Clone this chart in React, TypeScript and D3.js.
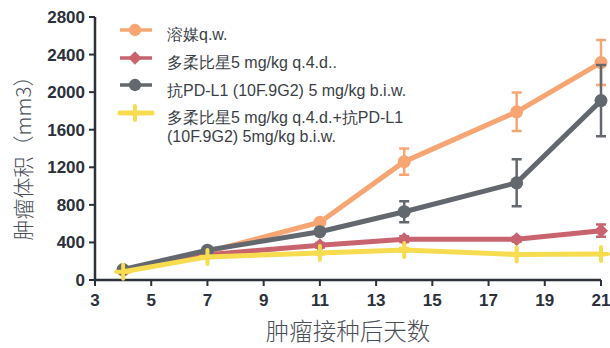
import React from "react";
import * as d3 from "d3";

// Days after tumour inoculation
const days = [4, 7, 11, 14, 18, 21];

// Mean tumour volume (mm3) per group
const vehicleMean = [105, 300, 615, 1260, 1790, 2315];
const doxMean = [100, 270, 370, 435, 433, 525];
const pdl1Mean = [112, 318, 514, 727, 1035, 1910];
const comboMean = [88, 246, 287, 320, 272, 276];

// Error bar half-widths (mm3)
const vehicleErr = [10, 20, 30, 140, 205, 240];
const doxErr = [8, 15, 25, 30, 25, 65];
const pdl1Err = [10, 20, 25, 112, 250, 380];
const comboErr = [6, 10, 15, 20, 12, 10];

const xTicks = [3, 5, 7, 9, 11, 13, 15, 17, 19, 21];
const yTicks = [0, 400, 800, 1200, 1600, 2000, 2400, 2800];

const legendLabels = [
  ["溶媒q.w."],
  ["多柔比星5 mg/kg q.4.d.."],
  ["抗PD-L1 (10F.9G2) 5 mg/kg b.i.w."],
  ["多柔比星5 mg/kg q.4.d.+抗PD-L1", "(10F.9G2) 5mg/kg b.i.w."],
];

type Shape = "circle" | "diamond" | "plus";
const series: { mean: number[]; err: number[]; color: string; shape: Shape }[] = [
  { mean: vehicleMean, err: vehicleErr, color: "#F7A673", shape: "circle" },
  { mean: doxMean, err: doxErr, color: "#C9646F", shape: "diamond" },
  { mean: pdl1Mean, err: pdl1Err, color: "#63676E", shape: "circle" },
  { mean: comboMean, err: comboErr, color: "#F8DC50", shape: "plus" },
];

const W = 610;
const H = 348;
const x = d3.scaleLinear().domain([3, 21]).range([95, 601]);
const y = d3.scaleLinear().domain([0, 2800]).range([280, 17]);
const axisColor = "#2B303A";
const font = "'Liberation Sans', Arial, sans-serif";
const cjk = "'Noto Sans CJK SC', sans-serif";

function Marker({ shape, cx, cy, color, size = 1 }: { shape: Shape; cx: number; cy: number; color: string; size?: number }) {
  if (shape === "circle") return <circle cx={cx} cy={cy} r={6.5 * size} fill={color} />;
  if (shape === "diamond") {
    const r = 7 * size;
    return <path d={`M${cx},${cy - r}L${cx + r},${cy}L${cx},${cy + r}L${cx - r},${cy}Z`} fill={color} />;
  }
  const r = 7 * size;
  return (
    <path
      d={`M${cx - r},${cy}L${cx + r},${cy}M${cx},${cy - r}L${cx},${cy + r}`}
      stroke={color}
      strokeWidth={4}
      strokeLinecap="round"
    />
  );
}

export default function App() {
  const line = d3
    .line<number>()
    .x((_, i) => x(days[i]))
    .y((v) => y(v));

  return (
    <svg width={W} height={H} style={{ position: "absolute", left: 0, top: 0, background: "#fff" }}>
      {/* axes */}
      <line x1={x(3)} x2={x(3)} y1={y(2800)} y2={y(0) + 1} stroke={axisColor} strokeWidth={2.5} />
      <line x1={x(3) - 1} x2={x(21)} y1={y(0)} y2={y(0)} stroke={axisColor} strokeWidth={2.5} />
      {yTicks.map((t) => (
        <g key={"y" + t}>
          <line x1={x(3) - 6} x2={x(3)} y1={y(t)} y2={y(t)} stroke={axisColor} strokeWidth={2} />
          <text
            x={x(3) - 10}
            y={y(t)}
            dy="0.35em"
            textAnchor="end"
            fontFamily={font}
            fontWeight="bold"
            fontSize={17}
            fill={axisColor}
          >
            {t}
          </text>
        </g>
      ))}
      {xTicks.map((t) => (
        <g key={"x" + t}>
          <line x1={x(t)} x2={x(t)} y1={y(0)} y2={y(0) + 6} stroke={axisColor} strokeWidth={2} />
          <text
            x={x(t)}
            y={y(0) + 20}
            dy="0.35em"
            textAnchor="middle"
            fontFamily={font}
            fontWeight="bold"
            fontSize={17}
            fill={axisColor}
          >
            {t}
          </text>
        </g>
      ))}

      {/* axis titles */}
      <text
        x={348}
        y={332}
        dy="0.35em"
        textAnchor="middle"
        fontFamily={cjk}
        fontWeight={300}
        fontSize={23.5}
        fill="#4A4F57"
      >
        肿瘤接种后天数
      </text>
      <text
        transform="translate(24,153) rotate(-90)"
        dy="0.35em"
        textAnchor="middle"
        fontFamily={cjk}
        fontWeight={300}
        fontSize={21}
        fill="#4A4F57"
      >
        肿瘤体积（mm3）
      </text>

      {/* series */}
      {series.map((s, si) => (
        <g key={"s" + si}>
          <path d={line(s.mean) || ""} fill="none" stroke={s.color} strokeWidth={5} strokeLinejoin="round" />
          {s.mean.map((v, i) => {
            const cx = x(days[i]);
            const top = y(v + s.err[i]);
            const bot = y(v - s.err[i]);
            return (
              <g key={i}>
                <path
                  d={`M${cx},${top}L${cx},${bot}M${cx - 5},${top}L${cx + 5},${top}M${cx - 5},${bot}L${cx + 5},${bot}`}
                  stroke={s.color}
                  strokeWidth={2.5}
                  fill="none"
                />
                <Marker shape={s.shape} cx={cx} cy={y(v)} color={s.color} />
              </g>
            );
          })}
        </g>
      ))}

      {/* legend */}
      {series.map((s, i) => {
        const my = [30, 58, 85, 113][i];
        const ty = [34, 62, 90, 117][i];
        return (
          <g key={"l" + i}>
            <line x1={120} x2={152} y1={my} y2={my} stroke={s.color} strokeWidth={s.shape === "plus" ? 5 : 3.5} strokeLinecap={s.shape === "plus" ? "round" : "butt"} />
            <Marker shape={s.shape} cx={135} cy={my} color={s.color} size={s.shape === "plus" ? 1 : 0.95} />
            {legendLabels[i].map((t, j) => (
              <text
                key={j}
                x={167}
                y={ty + j * 19.5}
                dy="0.35em"
                fontFamily={font}
                fontSize={16}
                fill="#3A3F47"
              >
                {t}
              </text>
            ))}
          </g>
        );
      })}
    </svg>
  );
}
